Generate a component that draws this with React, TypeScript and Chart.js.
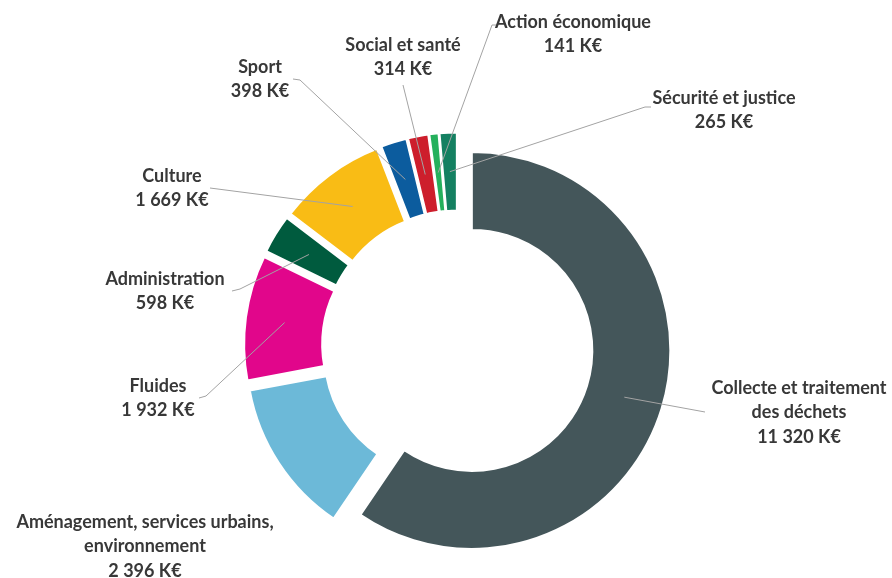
import React, { useEffect, useRef } from "react";
import { Chart, registerables } from "chart.js";

Chart.register(...registerables);

// ---- data ----
const categories = [
  "Collecte et traitement des déchets",
  "Aménagement, services urbains, environnement",
  "Fluides",
  "Administration",
  "Culture",
  "Sport",
  "Social et santé",
  "Action économique",
  "Sécurité et justice",
];
const values = [11320, 2396, 1932, 598, 1669, 398, 314, 141, 265];
const labelLines = [
  ["Collecte et traitement", "des déchets"],
  ["Aménagement, services urbains,", "environnement"],
  ["Fluides"],
  ["Administration"],
  ["Culture"],
  ["Sport"],
  ["Social et santé"],
  ["Action économique"],
  ["Sécurité et justice"],
];
const unit = "K€";

// ---- styles / layout ----
const colors = [
  "#44565a",
  "#6cb9d8",
  "#e1068b",
  "#005b3e",
  "#f9bc15",
  "#0c5c9e",
  "#cd1e2c",
  "#25b05c",
  "#148061",
];
// label block: center x, first line center y
const labelPos: [number, number][] = [
  [799, 388],
  [145, 522],
  [158, 386],
  [165, 279],
  [172, 176],
  [260, 67],
  [403, 45],
  [573, 22],
  [724, 98],
];
// leader line points near the label (then to slice centroid)
const leaderPts: [number, number][][] = [
  [[705, 412]],
  [],
  [[199, 398], [206, 396]],
  [[232, 291], [240, 289]],
  [[210, 188]],
  [[293, 79], [300, 80]],
  [[403, 85]],
  [[497, 25], [492, 25]],
  [[651, 107], [645, 107]],
];
const EXPLODE = 15;
const LINE_H = 24.5;
const FONT = "bold 18px Lato";

function fmt(v: number) {
  return String(v).replace(/\B(?=(\d{3})+(?!\d))/g, " ") + " " + unit;
}

const explodePlugin = {
  id: "explode",
  beforeDatasetDraw(chart: any, args: any) {
    const ctx = chart.ctx;
    args.meta.data.forEach((arc: any) => {
      const mid = (arc.startAngle + arc.endAngle) / 2;
      ctx.save();
      ctx.translate(Math.cos(mid) * EXPLODE, Math.sin(mid) * EXPLODE);
      arc.draw(ctx);
      ctx.restore();
    });
    return false;
  },
};

const labelPlugin = {
  id: "labels",
  afterDatasetsDraw(chart: any) {
    const ctx = chart.ctx;
    const meta = chart.getDatasetMeta(0);
    ctx.save();
    meta.data.forEach((arc: any, i: number) => {
      const mid = (arc.startAngle + arc.endAngle) / 2;
      const r = (arc.innerRadius + arc.outerRadius) / 2;
      const cx = arc.x + Math.cos(mid) * (r + EXPLODE);
      const cy = arc.y + Math.sin(mid) * (r + EXPLODE);
      const pts = leaderPts[i];
      if (pts.length) {
        ctx.beginPath();
        ctx.strokeStyle = "#a3a3a3";
        ctx.lineWidth = 1;
        ctx.moveTo(pts[0][0], pts[0][1]);
        for (let k = 1; k < pts.length; k++) ctx.lineTo(pts[k][0], pts[k][1]);
        ctx.lineTo(cx, cy);
        ctx.stroke();
      }
    });
    ctx.fillStyle = "#383838";
    ctx.font = FONT;
    ctx.textAlign = "center";
    ctx.textBaseline = "middle";
    values.forEach((v, i) => {
      const lines = [...labelLines[i], fmt(v)];
      const [x, y] = labelPos[i];
      lines.forEach((t, k) => ctx.fillText(t, x, y + k * LINE_H));
    });
    ctx.restore();
  },
};

export default function App() {
  const ref = useRef<HTMLCanvasElement | null>(null);
  useEffect(() => {
    if (!ref.current) return;
    const chart = new Chart(ref.current, {
      type: "doughnut",
      data: {
        labels: categories,
        datasets: [
          {
            data: values,
            backgroundColor: colors,
            borderColor: "#ffffff",
            borderWidth: 2,
            hoverBorderWidth: 2,
            borderJoinStyle: "miter",
          } as any,
        ],
      },
      options: {
        animation: false,
        responsive: false,
        maintainAspectRatio: false,
        events: [],
        cutout: "60.7%",
        layout: { padding: { left: 258, right: 235, top: 146.5, bottom: 32.5 } },
        plugins: {
          legend: { display: false },
          tooltip: { enabled: false },
        },
      } as any,
      plugins: [explodePlugin, labelPlugin],
    });
    return () => chart.destroy();
  }, []);
  return (
    <div style={{ position: "absolute", left: 0, top: 0, width: 892, height: 578, background: "#fff" }}>
      <canvas ref={ref} width={892} height={578} />
    </div>
  );
}
